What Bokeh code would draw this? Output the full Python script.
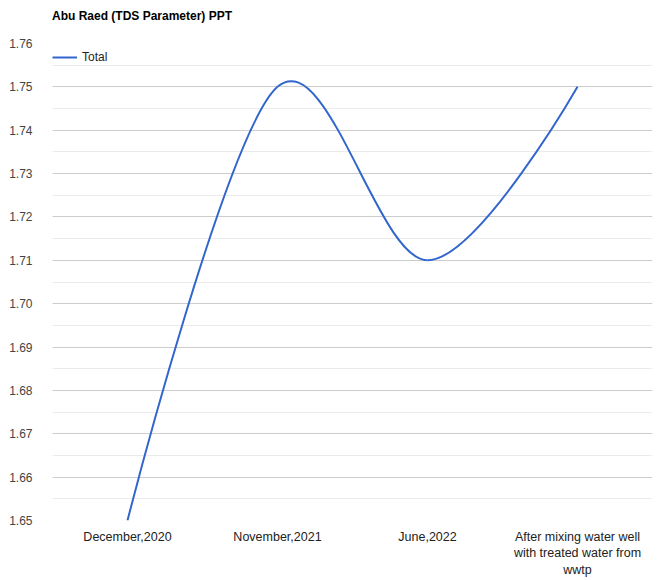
import numpy as np
from bokeh.plotting import figure
from bokeh.models import FixedTicker, Range1d, Legend, LegendItem, NumeralTickFormatter, Div
from bokeh.layouts import column
from bokeh.embed import file_html
from bokeh.resources import INLINE

title = "Abu Raed (TDS Parameter) PPT"
categories = ["December,2020", "November,2021", "June,2022",
              "After mixing water well\nwith treated water from\nwwtp"]
values = [1.65, 1.75, 1.71, 1.75]
series_name = "Total"
y_ticks = [1.65, 1.66, 1.67, 1.68, 1.69, 1.70, 1.71, 1.72, 1.73, 1.74, 1.75, 1.76]

FONT = "Liberation Sans"
LINE = "#3366cc"

title_div = Div(text=title, width=400, height=23, margin=(9, 0, 0, 52),
                styles={"font-family": FONT, "font-size": "12px", "font-weight": "bold",
                        "color": "#000000", "line-height": "14px", "white-space": "nowrap"})

p = figure(width=658, height=548, output_backend="svg", toolbar_location=None,
           x_range=Range1d(0, len(categories)), y_range=Range1d(1.65, 1.76),
           min_border_left=52, min_border_right=6, min_border_top=11, min_border_bottom=60)
p.outline_line_color = None

# smooth curve (Google-style cardinal spline) from data
xs = np.arange(len(values)) + 0.5
ys = np.array(values, dtype=float)
n = len(values)
x0, y0, x1, y1, cx0, cy0, cx1, cy1 = [], [], [], [], [], [], [], []
for i in range(n - 1):
    x0.append(xs[i]); y0.append(ys[i]); x1.append(xs[i + 1]); y1.append(ys[i + 1])
    if i == 0:
        cx0.append(xs[i]); cy0.append(ys[i])
    else:
        cx0.append(xs[i] + (xs[i + 1] - xs[i - 1]) / 6); cy0.append(ys[i] + (ys[i + 1] - ys[i - 1]) / 6)
    if i + 1 == n - 1:
        cx1.append(xs[i + 1]); cy1.append(ys[i + 1])
    else:
        cx1.append(xs[i + 1] - (xs[i + 2] - xs[i]) / 6); cy1.append(ys[i + 1] - (ys[i + 2] - ys[i]) / 6)

r = p.bezier(x0=x0, y0=y0, x1=x1, y1=y1, cx0=cx0, cy0=cy0, cx1=cx1, cy1=cy1,
             line_color=LINE, line_width=2)

# axes
p.xaxis.ticker = FixedTicker(ticks=list(xs))
p.xaxis.major_label_overrides = {float(x): c for x, c in zip(xs, categories)}
p.xaxis.axis_line_color = None
p.xaxis.major_tick_line_color = None
p.xaxis.minor_tick_line_color = None
p.xaxis.major_label_text_font = FONT
p.xaxis.major_label_text_font_size = "12.5px"
p.xaxis.major_label_text_line_height = 1.2
p.xaxis.major_label_text_color = "#222222"
p.xaxis.major_label_standoff = 3
p.xgrid.grid_line_color = None

minor = [round(t + 0.005, 3) for t in y_ticks[:-1]]
p.yaxis.ticker = FixedTicker(ticks=y_ticks, minor_ticks=minor)
p.yaxis.formatter = NumeralTickFormatter(format="0.00")
p.yaxis.axis_line_color = None
p.yaxis.major_tick_line_color = None
p.yaxis.minor_tick_line_color = None
p.yaxis.major_label_text_font = FONT
p.yaxis.major_label_text_font_size = "12px"
p.yaxis.major_label_text_color = "#444444"
p.yaxis.major_label_standoff = 14
p.ygrid.grid_line_color = "#cccccc"
p.ygrid.minor_grid_line_color = "#ebebeb"

legend = Legend(items=[LegendItem(label=series_name, renderers=[r])], location="top_left",
                border_line_color=None, background_fill_alpha=0,
                label_text_font=FONT, label_text_font_size="12px", label_text_color="#222222",
                glyph_width=25, glyph_height=28, label_height=28, padding=0, margin=0,
                spacing=0, label_standoff=5)
p.add_layout(legend)

layout = column(title_div, p, spacing=0)
open("out.html", "w").write(file_html(layout, INLINE))
